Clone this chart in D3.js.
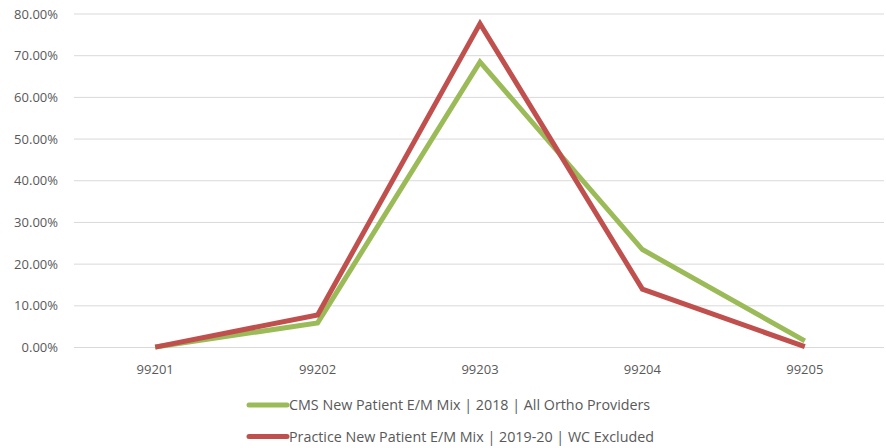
<!DOCTYPE html>
<html><head><meta charset="utf-8">
<script src="https://cdn.jsdelivr.net/npm/d3@7"></script>
<style>body{margin:0;background:#fff;} text{font-family:"Open Sans",sans-serif;}</style>
</head><body><svg id="c" width="886" height="448"></svg>
<script>
const categories = ["99201","99202","99203","99204","99205"];
const cmsValues = [0.001, 0.059, 0.685, 0.235, 0.016];
const practiceValues = [0.001, 0.078, 0.777, 0.140, 0.002];
const seriesNames = ["CMS New Patient E/M Mix | 2018 | All Ortho Providers","Practice New Patient E/M Mix | 2019-20 | WC Excluded"];
const yTicks = [0,0.1,0.2,0.3,0.4,0.5,0.6,0.7,0.8];
const colors = ["#9BBB59","#C0504D"];

const svg = d3.select("#c");
const x = d3.scaleBand().domain(categories).range([74, 886]);
const y = d3.scaleLinear().domain([0,0.8]).range([347.5, 14]);

svg.append("g").selectAll("line").data(yTicks).join("line")
  .attr("x1",74).attr("x2",884).attr("y1",d=>y(d)).attr("y2",d=>y(d))
  .attr("stroke","#d9d9d9").attr("stroke-width",1);

const yAxis = svg.append("g").attr("transform","translate(66,0)")
  .call(d3.axisLeft(y).tickValues(yTicks).tickSize(0).tickFormat(d=>(d*100).toFixed(2)+"%"));
yAxis.select(".domain").remove();
yAxis.selectAll("text").attr("fill","#595959").style("font-size","13px").attr("x",-8);

const xAxis = svg.append("g").attr("transform","translate(0,362)")
  .call(d3.axisBottom(x).tickSize(0));
xAxis.select(".domain").remove();
xAxis.selectAll("text").attr("fill","#595959").style("font-size","13px").attr("dy","0.71em");

const line = d3.line().x((d,i)=>x(categories[i])+x.bandwidth()/2).y(d=>y(d));
[cmsValues, practiceValues].forEach((vals,i)=>{
  svg.append("path").datum(vals).attr("d",line).attr("fill","none")
    .attr("stroke",colors[i]).attr("stroke-width",5).attr("stroke-linejoin","miter");
});

const leg = svg.append("g");
seriesNames.forEach((n,i)=>{
  const yy = 405 + i*31.5;
  leg.append("line").attr("x1",249).attr("x2",287).attr("y1",yy).attr("y2",yy)
    .attr("stroke",colors[i]).attr("stroke-width",5).attr("stroke-linecap","round");
  leg.append("text").attr("x",289).attr("y",yy).attr("dy","0.35em")
    .attr("fill","#595959").style("font-size","14.3px").text(n);
});
</script></body></html>
